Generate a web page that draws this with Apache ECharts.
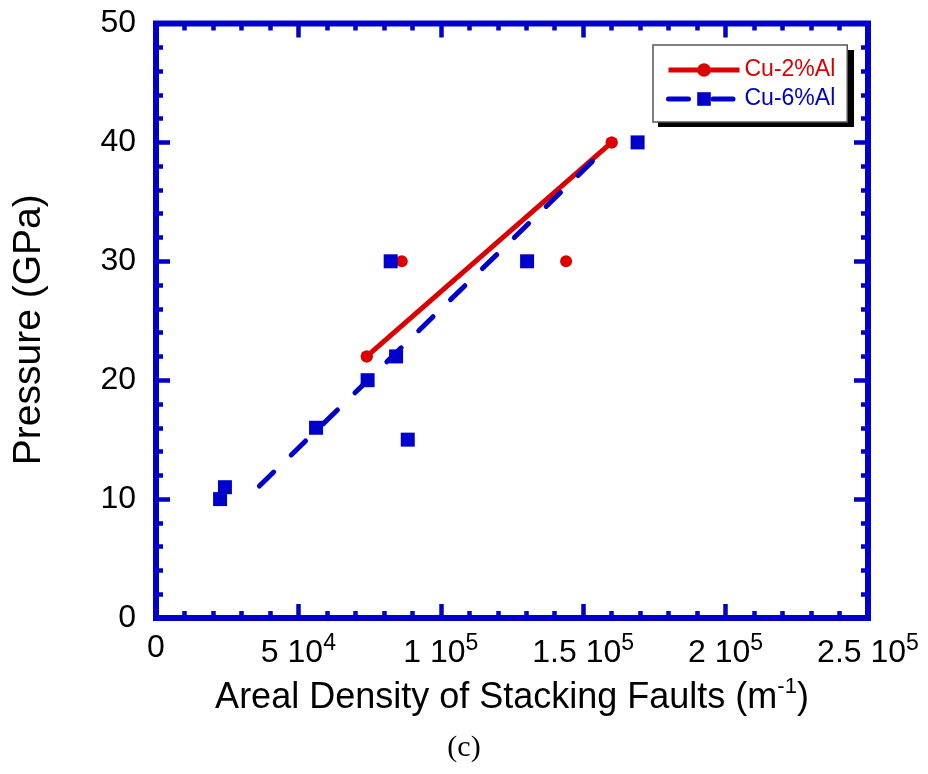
<!DOCTYPE html>
<html><head><meta charset="utf-8">
<script src="https://cdn.jsdelivr.net/npm/echarts@6/dist/echarts.min.js"></script>
<style>html,body{margin:0;padding:0;background:#fff}#c{width:928px;height:774px}</style>
</head><body><div id="c"></div>
<script>
// ---- data ----
const cu2Points = [[74000,22],[86300,30],[144000,30],[160000,40]];
const cu2Fit = [[74000,22],[160000,40]];
const cu6Points = [[22500,10],[24200,11],[56200,16],[74300,20],[84300,22],[88400,15],[82400,30],[130300,30],[169100,40]];
const cu6Fit = [[36300,11.1],[154500,38.7]];
const xTickValues = [0,50000,100000,150000,200000,250000];
const xTickMantissa = ['0','5','1','1.5','2','2.5'];
const xTickExponent = ['','4','5','5','5','5'];
const yTickValues = [0,10,20,30,40,50];

const BLUE = '#0000cc', RED = '#dd0000', FONT = 'Liberation Sans';

function tickStyle(){
  return {
    axisLine:{show:false, onZero:false},
    axisTick:{show:true, inside:true, length:14, lineStyle:{color:BLUE, width:4.5}},
    minorTick:{show:true, splitNumber:5, length:7, lineStyle:{color:BLUE, width:4.5}},
    splitLine:{show:false}, minorSplitLine:{show:false}
  };
}

const chart = echarts.init(document.getElementById('c'), null, {renderer:'canvas'});
chart.setOption({
  animation:false,
  backgroundColor:'#fff',
  title:{text:'(c)', left:'center', top:733, padding:0,
    textStyle:{fontFamily:'Liberation Serif', fontWeight:'normal', fontSize:30, color:'#000'}},
  grid:{left:156, right:60, top:23.5, bottom:156, show:true, borderColor:BLUE, borderWidth:6, backgroundColor:'transparent'},
  graphic:[
    {type:'rect', z:1, shape:{x:658, y:50, width:196, height:77}, style:{fill:'#000'}}
  ],
  legend:{
    z:5,
    data:[{name:'Cu-2%Al', textStyle:{color:RED}}, {name:'Cu-6%Al', textStyle:{color:BLUE}}],
    orient:'vertical', left:653, top:45, itemWidth:71, itemHeight:17, itemGap:3,
    padding:[12,12,10,13], backgroundColor:'#fff', borderColor:'#555', borderWidth:1.5,
    selectedMode:false,
    lineStyle:{width:5},
    textStyle:{fontSize:23, fontFamily:FONT, lineHeight:26}
  },
  xAxis:[
    Object.assign({type:'value', min:0, max:250000, interval:50000, position:'bottom',
      axisLabel:{show:true, margin:14, color:'#000', fontSize:32, fontFamily:FONT,
        formatter:function(v){
          const i = xTickValues.indexOf(v);
          if (i < 0) return '';
          if (!xTickExponent[i]) return xTickMantissa[i];
          return xTickMantissa[i] + ' 10{sup|' + xTickExponent[i] + '}';
        },
        rich:{sup:{fontSize:23, fontFamily:FONT, color:'#000', verticalAlign:'bottom', padding:[0,0,20,0]}}
      },
      name:'Areal Density of Stacking Faults (m{sup|-1})', nameLocation:'middle', nameGap:58,
      nameTextStyle:{fontSize:36, fontFamily:FONT, color:'#000',
        rich:{sup:{fontSize:22, fontFamily:FONT, color:'#000', verticalAlign:'bottom', padding:[0,0,22,0]}}}
    }, tickStyle()),
    Object.assign({type:'value', min:0, max:250000, interval:50000, position:'top', axisLabel:{show:false}}, tickStyle())
  ],
  yAxis:[
    Object.assign({type:'value', min:0, max:50, interval:10, position:'left',
      axisLabel:{show:true, margin:20, color:'#000', fontSize:32, fontFamily:FONT,
        formatter:function(v){ return yTickValues.indexOf(v) >= 0 ? String(v) : ''; }},
      name:'Pressure (GPa)', nameLocation:'middle', nameGap:107,
      nameTextStyle:{fontSize:39, fontFamily:FONT, color:'#000', padding:[0,18,0,0]}
    }, tickStyle()),
    Object.assign({type:'value', min:0, max:50, interval:10, position:'right', axisLabel:{show:false}}, tickStyle())
  ],
  series:[
    {type:'scatter', name:'cu2pts', data:cu2Points, symbol:'circle', symbolSize:12, itemStyle:{color:RED, opacity:1}, z:2},
    {type:'line', name:'Cu-2%Al', data:cu2Fit, symbol:'circle', symbolSize:12, showSymbol:true,
      lineStyle:{color:RED, width:5}, itemStyle:{color:RED, opacity:1}, z:3},
    {type:'line', name:'Cu-6%Al', data:cu6Fit, symbol:'rect', symbolSize:14, showSymbol:false,
      lineStyle:{color:BLUE, width:5, type:[20,24.5], cap:'round'}, itemStyle:{color:BLUE}, z:4},
    {type:'scatter', name:'cu6pts', data:cu6Points, symbol:'rect', symbolSize:14, itemStyle:{color:BLUE, opacity:1}, z:5}
  ]
});
</script>
</body></html>
